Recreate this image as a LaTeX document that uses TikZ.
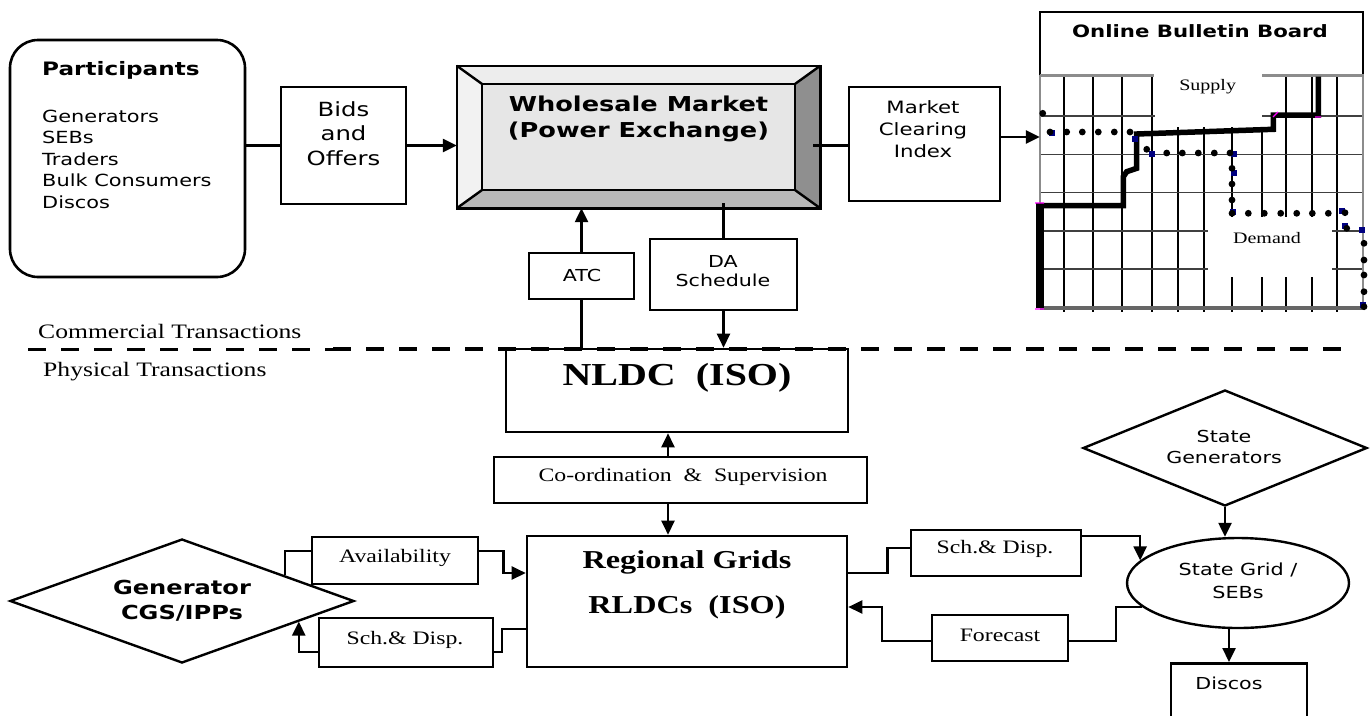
\documentclass[tikz,border=0pt]{standalone}
\usepackage{fontspec}
\setmainfont{Liberation Serif}[FakeStretch=1.25]
\newfontfamily\vd{DejaVu Sans}[FakeStretch=1.25]
\usetikzlibrary{arrows.meta,shapes.geometric}
\definecolor{bevtop}{HTML}{EDEDED}
\definecolor{bevleft}{HTML}{F2F2F2}
\definecolor{bevright}{HTML}{8F8F8F}
\definecolor{bevbot}{HTML}{B8B8B8}
\definecolor{wmin}{HTML}{E6E6E6}
\definecolor{navyq}{HTML}{000080}
\definecolor{magq}{HTML}{FF00FF}
\begin{document}
\begin{tikzpicture}[x=1pt,y=-1pt,
  box/.style={draw, line width=2.6pt, inner sep=0pt},
  conn/.style={line width=2.4pt},
  arr/.style={line width=2.4pt, -{Triangle[length=14pt,width=13pt]}},
  vt/.style={font=\vd\fontsize{16.5}{21}\selectfont, align=center, inner sep=0pt},
  tt/.style={font=\fontsize{19}{23}\selectfont, align=center, inner sep=0pt},
  gridv/.style={line width=2.1pt, black},
  gridh/.style={line width=1.6pt, black!75},
  gridb/.style={line width=3pt, black!45},
  dashA/.style={line width=3pt, dash pattern=on 18pt off 15pt},
  dashB/.style={line width=4.4pt, dash pattern=on 18pt off 15pt}]
\useasboundingbox (0,0) rectangle (1372,715);

% ---------- Participants ----------
\node[box, rounded corners=28pt, minimum width=235pt, minimum height=237pt] (part) at (127.5,158.5) {};
\node[font=\vd\bfseries\fontsize{18.5}{22}\selectfont, anchor=west, inner sep=0pt] (partt) at (42,70) {Participants};
\node[font=\vd\fontsize{16.7}{21.5}\selectfont, anchor=west, align=left, inner sep=0pt] (partl) at (42,159) {Generators\\SEBs\\Traders\\Bulk Consumers\\Discos};

% ---------- Bids and Offers ----------
\node[box, minimum width=125pt, minimum height=117pt] (bids) at (343.5,145.5) {};
\node[vt, font=\vd\fontsize{19.5}{24.5}\selectfont] (bidst) at (343.5,133.5) {Bids\\and\\Offers};

% ---------- Wholesale Market ----------
\node[inner sep=0pt, minimum width=363pt, minimum height=142pt] (wm) at (638.5,137) {};
\node[inner sep=0pt, minimum width=313pt, minimum height=106pt, fill=wmin] (wmi) at (638.5,137) {};
\fill[bevtop] (wm.north west) -- (wm.north east) -- (wmi.north east) -- (wmi.north west) -- cycle;
\fill[bevleft] (wm.north west) -- (wmi.north west) -- (wmi.south west) -- (wm.south west) -- cycle;
\fill[bevright] (wm.north east) -- (wm.south east) -- (wmi.south east) -- (wmi.north east) -- cycle;
\fill[bevbot] (wm.south west) -- (wm.south east) -- (wmi.south east) -- (wmi.south west) -- cycle;
\draw[line width=2.6pt] (wm.north west) rectangle (wm.south east);
\draw[line width=2.4pt] (wmi.north west) rectangle (wmi.south east);
\draw[line width=2.4pt] (wm.north west) -- (wmi.north west) (wm.north east) -- (wmi.north east)
  (wm.south west) -- (wmi.south west) (wm.south east) -- (wmi.south east);
\node[font=\vd\bfseries\fontsize{20.5}{26}\selectfont, align=center, inner sep=0pt] (wmt) at (638.5,119) {Wholesale Market\\(Power Exchange)};

% ---------- Market Clearing Index ----------
\node[box, minimum width=151pt, minimum height=114pt] (mci) at (924.5,144) {};
\node[vt, font=\vd\fontsize{17}{22}\selectfont] (mcit) at (923,129) {Market\\Clearing\\Index};

% ---------- Online Bulletin Board ----------
\node[inner sep=0pt, minimum width=323pt, minimum height=296pt] (obb) at (1201.5,160) {};
\draw[line width=2.4pt] (1040,75) -- (1040,12) -- (1363,12) -- (1363,75);
\node[font=\vd\bfseries\fontsize{17}{20}\selectfont, inner sep=0pt] (obbt) at (1200,31) {Online Bulletin Board};
% grid verticals
\foreach \x in {1064.3,1093.3,1121.7,1152.3,1336.7} \draw[gridv] (\x,75) -- (\x,312);
\foreach \x in {1178.3,1204.3} \draw[gridv] (\x,127) -- (\x,312);
\foreach \x in {1232.3,1261.7} {\draw[gridv] (\x,127) -- (\x,217); \draw[gridv] (\x,277) -- (\x,312);}
\foreach \x in {1285.7,1312.3} {\draw[gridv] (\x,75) -- (\x,217); \draw[gridv] (\x,277) -- (\x,312);}
% grid horizontals
\draw[gridh] (1040,116) -- (1155,116) (1262,116) -- (1363,116);
\draw[gridh] (1040,154.3) -- (1363,154.3);
\draw[gridh] (1040,192.3) -- (1363,192.3);
\draw[gridh] (1040,230.7) -- (1208,230.7) (1332,230.7) -- (1363,230.7);
\draw[gridh] (1040,269) -- (1208,269) (1332,269) -- (1363,269);
% grid border
\draw[gridb] (1040,75) -- (1154,75) (1262,75) -- (1364,75);
\draw[gridb, line width=2.4pt] (1040,75) -- (1040,308);
\draw[gridb, line width=2.6pt] (1363,75) -- (1363,308);
\draw[line width=3.2pt, black!60] (1040,308) -- (1363,308);
\node[font=\fontsize{16}{18}\selectfont, inner sep=0pt] (supl) at (1207.7,87) {Supply};
\node[font=\fontsize{16}{18}\selectfont, inner sep=0pt] (deml) at (1267,238) {Demand};
% supply curve
\draw[line width=8pt] (1040,308) -- (1040,203);
\draw[line width=5.5pt, line join=miter] (1040,205.7) -- (1123.3,205.7) -- (1123.3,176.7) -- (1126.7,171.7) -- (1136.7,168.3) -- (1136.7,134) -- (1273.3,129.3) -- (1273.3,115) -- (1318.3,115) -- (1318.3,76.7);
\draw[magq, line width=1.2pt] (1035,203) -- (1044,203) (1035,309) -- (1044,309) (1273,117) -- (1278,112) (1315,117) -- (1321,117);
% demand markers
\foreach \p in {{1052,133},{1135,139},{1152,154},{1234,154},{1234,173},{1233,212},{1342,211},{1345,226},{1362,230},{1363,305}}
  \fill[navyq] ([shift={(-2.8,-2.8)}]\p) rectangle ++(5.6,5.6);
\foreach \p in {{1042.7,113.3},{1050,132},{1066.7,132},{1082.3,132},{1098.3,132},{1114.3,132},{1130,132},
  {1146.7,149.3},{1166.7,153},{1182.3,153},{1198.3,153},{1214.3,153},{1230,153},
  {1232,168.3},{1232,184},{1232,200},{1232,213.3},
  {1248.3,213.3},{1264.3,213.3},{1280.7,213.3},{1296.7,213.3},{1312.3,213.3},{1328.3,213.3},{1345,212.7},
  {1346.7,228.3},{1364,243.3},{1364,260},{1364,275},{1364,291.7},{1364,306.7}}
  \fill (\p) circle[radius=3.4pt];

% ---------- ATC and DA Schedule ----------
\node[box, minimum width=105pt, minimum height=46pt] (atc) at (581.5,276) {};
\node[vt] (atct) at (582,275) {ATC};
\node[box, minimum width=147pt, minimum height=71pt] (da) at (723.5,274.5) {};
\node[vt, font=\vd\fontsize{16.5}{19}\selectfont] (dat) at (723,271.5) {DA\\Schedule};

% ---------- top connectors ----------
\draw[conn] (part.east |- bids.west) -- (bids.west);
\draw[arr] (bids.east) -- (bids.east -| wm.west);
\draw[conn] ([xshift=-7pt]wm.east |- bids.east) -- (mci.west |- bids.east);
\draw[arr] ([yshift=7pt]mci.east) -- ([yshift=7pt]mci.east -| obb.west);
\draw[arr] (atc.north) -- (atc.north |- wm.south);

% ---------- divider ----------
\node[font=\fontsize{20.5}{24}\selectfont, anchor=west, inner sep=0pt] (comm) at (38,331) {Commercial Transactions};
\node[font=\fontsize{20.5}{24}\selectfont, anchor=west, inner sep=0pt] (phys) at (43,372) {Physical Transactions};

% ---------- NLDC ----------
\node[box, minimum width=342pt, minimum height=83pt] (nldc) at (677,390.5) {};
\node[font=\bfseries\fontsize{32}{36}\selectfont, inner sep=0pt] (nldct) at (677,378) {NLDC~~(ISO)};
\draw[conn] ([yshift=5pt]da.north |- wm.south) -- (da.north);
\draw[arr] (da.south) -- (da.south |- nldc.north);
\draw[conn] (atc.south) -- (atc.south |- nldc.north);
\draw[dashA] (28,349) -- (333,349);
\draw[dashB] (333,349) -- (1352,349);

% ---------- Co-ordination ----------
\node[box, minimum width=373pt, minimum height=46pt] (coord) at (680.5,480) {};
\node[tt] (coordt) at (683,477) {Co-ordination~~\&~~Supervision};
\coordinate (vx) at (668,480);

% ---------- Regional Grids ----------
\node[box, minimum width=320pt, minimum height=131pt] (reg) at (687,601.5) {};
\node[font=\bfseries\fontsize{25.8}{45}\selectfont, align=center, inner sep=0pt] (regt) at (687,584.5) {Regional Grids\\RLDCs~~(ISO)};
\draw[arr] (coord.north -| vx) -- (nldc.south -| vx);
\draw[arr] (coord.south -| vx) -- (reg.north -| vx);

% ---------- Generator CGS/IPPs ----------
\node[draw, diamond, aspect=2.77, line width=2.4pt, minimum width=344pt, minimum height=124pt, inner sep=0pt] (gen) at (182,601) {};
\node[vt, font=\vd\bfseries\fontsize{19.3}{25}\selectfont] (gent) at (182,600.5) {Generator\\CGS/IPPs};
\node[box, minimum width=166pt, minimum height=47pt] (avail) at (395,560.5) {};
\node[tt] (availt) at (395,558) {Availability};
\node[box, minimum width=174pt, minimum height=49pt] (sch1) at (406,642.5) {};
\node[tt] (sch1t) at (405,640) {Sch.\& Disp.};
\draw[conn] (gen.14.6) |- ([yshift=9.5pt]avail.west);
\draw[arr] ([yshift=9.5pt]avail.east) -- ++(24,0) |- ([yshift=28.5pt]reg.west);
\draw[conn] ([yshift=-27.5pt]reg.west) -- ++(-24,0) |- ([yshift=-9.5pt]sch1.east);
\draw[arr] ([yshift=-9.5pt]sch1.west) -| (gen.-10.9);

% ---------- State side ----------
\node[draw, diamond, aspect=2.45, line width=2.4pt, minimum width=284pt, minimum height=116pt, inner sep=0pt] (stg) at (1225,448) {};
\node[vt] (stgt) at (1224,446.5) {State\\Generators};
\node[draw, ellipse, line width=2.4pt, minimum width=222pt, minimum height=90pt, inner sep=0pt] (sg) at (1238,583) {};
\node[vt, font=\vd\fontsize{16.6}{23}\selectfont] (sgt) at (1238,580.5) {State Grid /\\SEBs};
\node[box, minimum width=170pt, minimum height=46pt] (sch2) at (996,553) {};
\node[tt] (sch2t) at (995,549) {Sch.\& Disp.};
\node[box, minimum width=136pt, minimum height=46pt] (fc) at (1000,638) {};
\node[tt] (fct) at (1000,635) {Forecast};
\node[box, anchor=north, minimum width=136pt, minimum height=70pt] (dis) at (1239,662) {};
\node[vt] (dist) at (1229,683) {Discos};
\draw[arr] (stg.south) -- (stg.south |- sg.north);
\draw[conn] ([yshift=28.5pt]reg.east) -- ++(39,0) |- ([yshift=5pt]sch2.west);
\draw[arr] ([yshift=17pt]sch2.east) -| (sg.167.2);
\draw[conn] (sg.194.2) -- ++(-26,0) |- ([yshift=-3pt]fc.east);
\draw[arr] ([yshift=-3pt]fc.west) -- ++(-49,0) |- ([yshift=-5.5pt]reg.east);
\draw[arr] ([xshift=-10pt]dis.north |- sg.south) -- ([xshift=-10pt]dis.north);
\end{tikzpicture}
\end{document}
